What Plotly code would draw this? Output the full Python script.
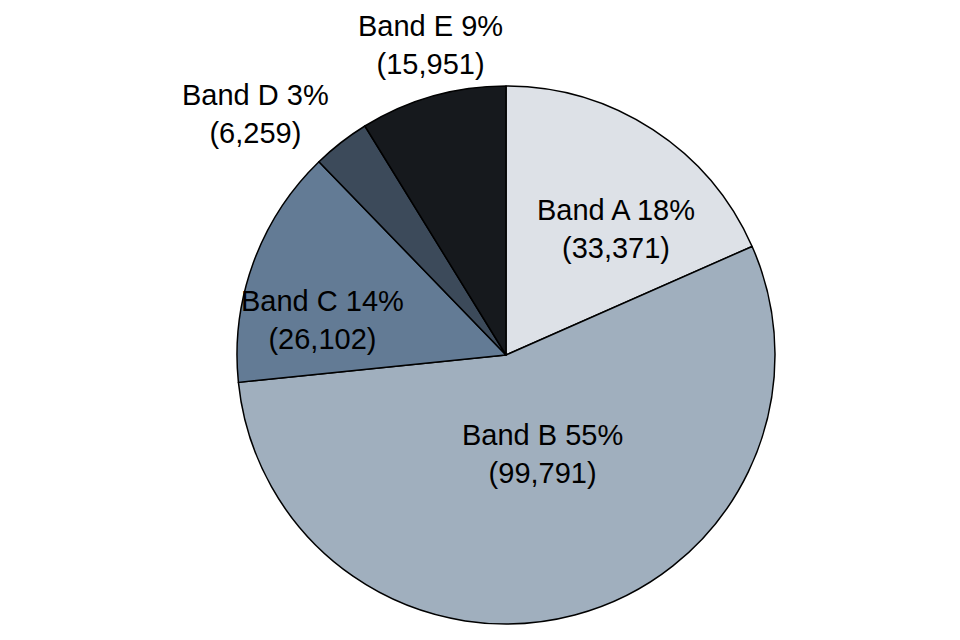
import plotly.graph_objects as go

bands = ["Band A", "Band B", "Band C", "Band D", "Band E"]
counts = [33371, 99791, 26102, 6259, 15951]
colours = ["#dde1e7", "#a0afbe", "#637b95", "#3c4a5a", "#16191d"]

# where each label sits (paper coords)
label_xy = [(0.6333, 0.6547, "middle"), (0.5563, 0.3031, "middle"),
            (0.3271, 0.5125, "middle"), (0.2583, 0.8344, "middle"),
            (0.4396, 1.0, "top")]

total = sum(counts)

fig = go.Figure(go.Pie(
    labels=bands, values=counts, sort=False, direction="clockwise", rotation=0,
    marker=dict(colors=colours, line=dict(color="#000000", width=1.5)),
    textinfo="none", hoverinfo="label+value+percent",
    hole=0, showlegend=False,
    domain=dict(x=[0.2385, 0.7990], y=[0.0375, 0.8781]),
))

for band, n, (x, y, ya) in zip(bands, counts, label_xy):
    fig.add_annotation(x=x, y=y, xref="paper", yref="paper",
                       xanchor="center", yanchor=ya, showarrow=False,
                       text=f"{band} {round(100 * n / total)}%<br>({n:,})",
                       font=dict(family="Liberation Sans, Arial", size=29, color="#000000"))

fig.update_layout(width=960, height=640, margin=dict(l=0, r=0, t=0, b=0),
                  paper_bgcolor="white", plot_bgcolor="white")
fig.write_html("out.html")
